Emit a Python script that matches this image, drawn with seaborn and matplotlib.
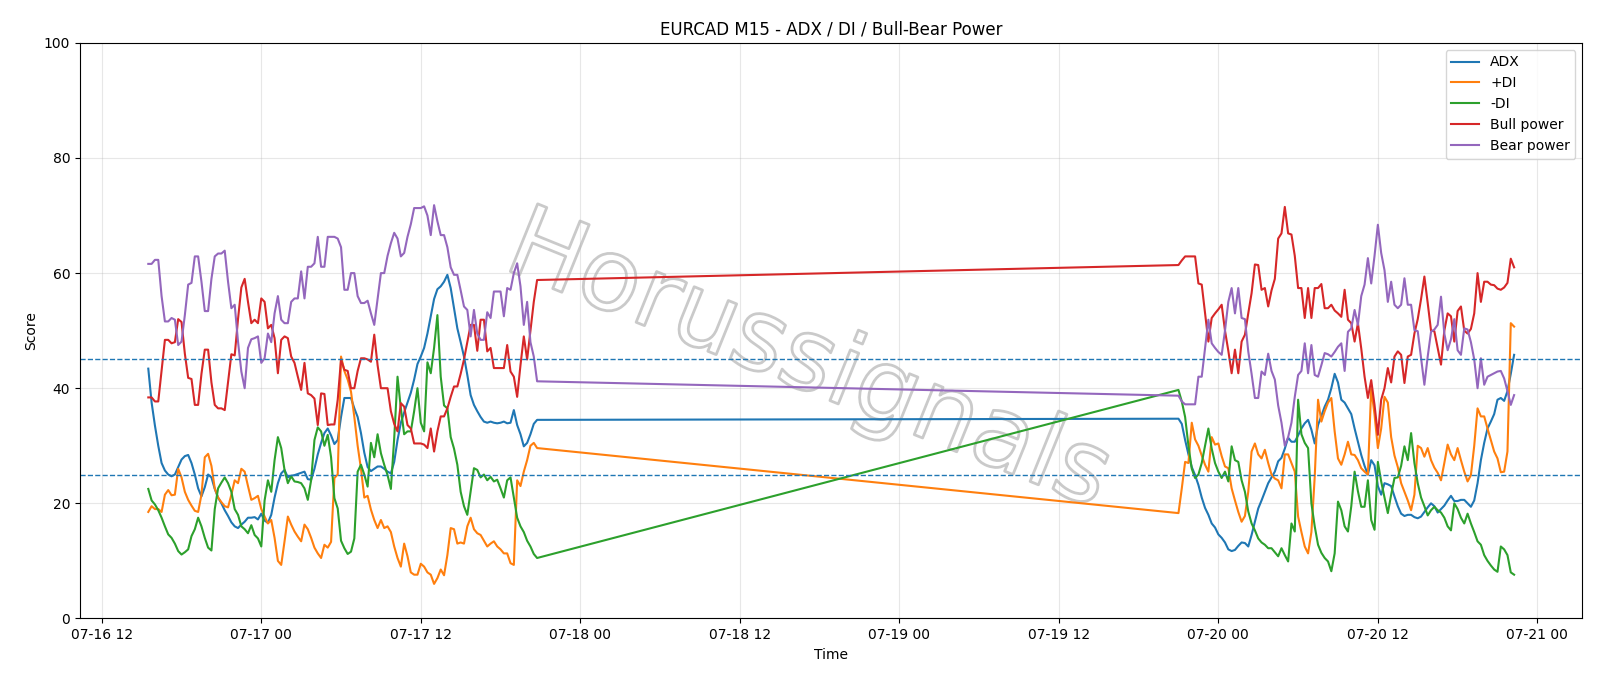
import pandas as pd
import seaborn as sns
import matplotlib.pyplot as plt
import matplotlib.dates as mdates
import matplotlib.patheffects as pe

# two blocks of M15 bars, weekend gap between them
t1 = pd.date_range('2025-07-16 15:30', periods=118, freq='15min')
t2 = pd.date_range('2025-07-19 21:00', periods=102, freq='15min')

adx_1 = [43.4, 37.5, 33.5, 30.0, 27.0, 25.7, 25.0, 24.7, 25.0, 26.3, 27.6, 28.2, 28.4, 27.0, 25.0, 22.6, 21.2, 22.8, 25.0, 24.5,
         22.5, 21.0, 20.0, 18.8, 17.8, 16.7, 16.0, 15.7, 16.3,
         16.8, 17.5, 17.5, 17.6, 17.2, 18.2, 17.0, 16.6, 18.0, 21.0, 23.5, 25.2, 25.8, 24.5, 24.8, 24.9, 25.1, 25.3, 25.5, 24.2,
         24.1, 26.0, 28.5, 30.5, 32.2, 33.0, 31.8, 30.3, 31.0,
         35.0, 38.3, 38.3, 38.3, 36.5, 35.0, 32.2, 28.8, 26.3, 25.6, 26.0, 26.4, 26.4, 26.0, 25.5, 25.2, 27.2, 31.0, 34.0, 35.8,
         37.5, 39.2, 41.5, 44.2, 45.5, 47.0, 49.5, 52.5,
         55.5, 57.2, 57.7, 58.5, 59.7, 57.4, 53.9, 50.4, 48.0, 45.5, 42.3, 38.8, 37.1, 36.0, 35.0, 34.2, 34.0, 34.2, 34.0, 33.9,
         34.0, 34.2, 33.9, 34.0, 36.2, 33.6, 32.0, 29.9, 30.5, 32.0, 33.8, 34.5]
adx_2 = [34.7, 33.8, 31.0, 28.5, 26.3, 24.9, 23.2, 21.0, 19.2, 18.0, 16.5, 15.8, 14.6, 14.0, 13.2, 12.0, 11.7, 11.9, 12.6, 13.2,
         13.1, 12.5, 14.5, 16.8, 19.1, 20.5, 22.0, 23.5, 24.5,
         25.5, 27.3, 27.9, 29.5, 31.4, 30.7, 30.7, 31.8, 33.0, 33.9, 34.5, 32.8, 30.4, 33.6, 35.2, 36.8, 38.0, 40.0, 42.5, 41.0,
         38.0, 37.5, 36.5, 35.5, 33.0, 30.7, 28.4, 26.5, 25.0,
         27.5, 26.6, 23.0, 21.5, 23.5, 23.3, 23.0, 21.2, 19.5, 18.2, 17.8, 18.0, 18.0, 17.6, 17.4, 17.7, 18.5, 19.3, 20.0, 19.5,
         18.4,
         19.0, 19.6, 20.5, 21.3, 20.4, 20.4, 20.6, 20.6, 20.0, 19.4, 20.5, 23.5, 27.5, 30.5, 33.0, 34.2, 35.5, 38.0, 38.3, 37.8,
         39.5, 42.5, 45.8]

pdi_1 = [18.5, 19.5, 19.0, 19.0, 18.5, 21.5, 22.3, 21.4, 21.5, 26.0, 24.5, 22.0, 20.6, 19.6, 18.7, 18.5, 21.5, 28.0, 28.6, 26.5,
         22.6, 21.0, 20.2, 19.5, 19.3, 21.5, 24.0, 23.5, 26.0,
         25.5, 23.0, 20.6, 20.9, 21.3, 19.0, 17.7, 16.5, 17.1, 14.0, 10.0, 9.3, 13.4, 17.7, 16.3, 15.1, 14.2, 13.4, 16.3, 15.5,
         14.0, 12.3, 11.3, 10.5, 12.8, 12.3, 13.3, 24.4, 25.0,
         45.5, 43.0, 41.5, 39.4, 35.0, 30.0, 26.0, 21.0, 21.3, 18.9, 17.1, 15.7, 17.1, 15.7, 16.0, 15.0, 12.5, 10.5, 9.0, 13.0,
         10.8, 8.0, 7.6, 7.6, 9.5, 9.0, 8.0, 7.6,
         6.0, 7.0, 8.5, 7.5, 11.0, 15.7, 15.5, 13.0, 13.2, 13.0, 16.0, 17.5, 15.5, 14.8, 14.5, 13.5, 12.5, 13.0, 13.4, 12.5,
         12.0, 11.3, 11.3, 9.6, 9.3, 24.0, 23.0, 25.5, 27.5, 30.0, 30.5, 29.6]
pdi_2 = [18.3, 22.6, 27.2, 27.0, 34.0, 31.1, 30.0, 28.3, 26.7, 25.5, 31.5, 30.2, 30.4, 28.2, 26.4, 26.1, 22.6, 20.5, 18.5, 16.8,
         17.8, 22.0, 29.0, 30.4, 28.5, 27.8, 29.3, 27.0, 25.0,
         24.3, 24.0, 22.6, 28.5, 28.5, 27.0, 25.5, 17.7, 15.0, 12.5, 11.3, 15.0, 24.6, 38.0, 34.2, 36.0, 37.5, 38.3, 32.5, 27.8,
         26.7, 28.5, 30.7, 28.5, 28.4, 27.5, 26.1, 25.5, 25.0,
         40.0, 35.4, 29.6, 33.0, 38.5, 37.5, 31.5, 28.3, 26.3, 23.5, 22.0, 20.5, 18.8, 21.5, 30.0, 29.6, 28.1, 29.6, 27.5, 26.2,
         25.3,
         24.0, 27.0, 30.2, 28.5, 27.5, 29.6, 27.5, 25.5, 23.8, 24.9, 30.0, 36.5, 35.1, 35.1, 33.0, 31.0, 29.0, 27.8, 25.4, 25.5,
         29.0, 51.3, 50.7]

mdi_1 = [22.5, 20.5, 19.8, 18.8, 17.5, 16.0, 14.6, 14.0, 13.0, 11.7, 11.1, 11.5, 12.0, 14.3, 15.5, 17.5, 16.0, 14.0, 12.3, 11.8,
         19.0, 22.6, 23.6, 24.5, 23.5, 22.0, 19.0, 18.0, 16.0,
         15.5, 14.8, 16.2, 14.5, 13.9, 12.5, 20.5, 24.0, 22.0, 27.5, 31.5, 29.6, 25.8, 23.5, 24.7, 23.8, 23.7, 23.5, 22.6, 20.6,
         24.0, 31.0, 33.2, 32.5, 30.0, 31.9, 28.0, 20.9, 19.1,
         13.5, 12.2, 11.2, 11.6, 13.9, 25.5, 26.7, 25.0, 22.9, 30.5, 28.0, 32.0, 28.7, 26.7, 24.9, 22.5, 31.3, 42.0, 36.5, 32.0,
         32.5, 32.5, 36.0, 40.0, 34.0, 32.5, 44.5, 42.6,
         47.0, 52.7, 42.0, 37.0, 36.5, 31.5, 29.5, 26.7, 22.0, 19.5, 18.0, 22.0, 26.1, 25.8, 24.5, 25.0, 24.0, 24.6, 23.8, 24.1,
         22.6, 21.0, 24.0, 24.5, 21.0, 17.5, 16.0, 15.0, 13.5, 12.5, 11.2, 10.5]
mdi_2 = [39.7, 37.7, 35.0, 30.0, 26.0, 24.4, 25.0, 27.0, 30.0, 33.0, 29.5, 27.0, 25.5, 24.4, 25.5, 23.8, 29.9, 27.5, 27.2, 24.0,
         22.0, 18.6, 16.5, 15.3, 13.9, 13.2, 12.8, 12.2, 12.2,
         11.5, 10.8, 12.2, 11.0, 9.9, 16.5, 15.1, 38.0, 32.0, 30.5, 29.6, 20.0, 16.0, 12.8, 11.4, 10.5, 9.9, 8.2, 11.3, 20.3,
         18.8, 16.0, 15.1, 19.5, 25.5, 22.1, 19.4, 19.4, 24.0,
         17.1, 15.4, 27.2, 23.8, 21.0, 18.3, 21.5, 24.4, 24.5, 26.5, 29.9, 27.5, 32.2, 27.0, 23.5, 21.0, 19.5, 17.9, 18.8, 19.4,
         18.8,
         18.4, 17.5, 16.0, 15.3, 20.0, 19.0, 17.5, 16.5, 18.2, 16.5, 15.0, 13.4, 12.8, 11.0, 10.0, 9.2, 8.5, 8.1, 12.5, 12.0,
         11.0, 8.0, 7.6]

bull_1 = [38.4, 38.4, 37.7, 37.7, 43.0, 48.4, 48.4, 47.8, 48.0, 52.0, 51.5, 46.0, 41.8, 41.6, 37.1, 37.1, 42.5, 46.7, 46.7, 41.0,
          37.1, 36.5, 36.5, 36.2, 41.0, 45.9, 45.7, 52.0, 57.5,
          59.0, 55.0, 51.3, 51.9, 51.3, 55.6, 55.0, 50.4, 51.0, 48.7, 42.6, 48.4, 49.0, 48.7, 45.5, 44.4, 42.0, 39.7, 44.4, 39.1,
          38.8, 38.2, 33.6, 39.1, 39.0, 33.6, 33.7, 33.7, 38.0,
          45.0, 43.2, 43.0, 40.0, 40.0, 43.0, 45.2, 45.2, 45.0, 44.6, 49.3, 44.0, 40.0, 40.0, 40.0, 36.0, 33.8, 32.5, 37.4, 36.8,
          33.6, 33.0, 30.4, 30.4, 30.4, 30.2, 29.6, 33.0,
          29.0, 32.5, 35.1, 35.1, 36.5, 38.5, 40.3, 40.3, 42.5, 45.0, 48.0, 51.0, 51.0, 46.5, 51.9, 51.9, 46.4, 47.0, 43.5, 43.5,
          43.5, 43.5, 47.5, 42.9, 42.0, 38.5, 44.0, 49.0, 45.0, 50.0, 55.0, 58.8]
bull_2 = [61.4, 62.2, 62.9, 62.9, 62.9, 62.9, 58.2, 58.0, 53.0, 48.1, 52.2, 53.0, 53.7, 54.5, 50.0, 46.5, 42.6, 46.7, 42.6, 48.1,
          49.3, 53.0, 56.5, 61.5, 61.4, 57.1, 57.4, 54.2, 57.0,
          59.0, 66.0, 66.9, 71.5, 66.9, 66.7, 63.0, 57.4, 57.4, 52.2, 57.4, 52.2, 57.4, 57.4, 58.1, 53.9, 53.9, 54.5, 53.5, 53.0,
          52.4, 57.1, 51.9, 51.3, 48.1, 51.3, 46.9, 42.0, 38.3,
          41.4, 37.1, 31.9, 38.0, 40.0, 43.5, 41.0, 45.5, 46.4, 45.8, 40.9, 45.5, 45.8, 49.5, 52.0, 55.5, 59.4, 54.8, 50.0, 49.9,
          47.0,
          44.1, 50.0, 53.0, 52.5, 48.1, 53.4, 54.2, 50.0, 49.5, 50.3, 53.0, 60.0, 55.0, 58.5, 58.5, 58.0, 57.9, 57.3, 57.1, 57.5,
          58.3, 62.5, 61.0]

bear_1 = [61.6, 61.6, 62.3, 62.3, 56.0, 51.6, 51.6, 52.2, 51.9, 47.5, 48.1, 52.7, 58.0, 58.3, 62.9, 62.9, 58.5, 53.4, 53.4, 59.0,
          62.9, 63.4, 63.4, 63.9, 58.5, 53.9, 54.5, 48.1, 42.9,
          40.0, 47.0, 48.5, 48.7, 49.0, 44.4, 45.2, 49.5, 48.0, 53.0, 56.0, 51.9, 51.3, 51.3, 55.0, 55.6, 55.6, 60.3, 55.6, 61.1,
          61.1, 61.7, 66.3, 61.1, 61.1, 66.3, 66.3, 66.3, 66.0,
          64.5, 57.1, 57.1, 60.0, 60.0, 56.0, 54.8, 54.8, 55.2, 53.0, 51.0, 55.5, 60.0, 60.0, 63.0, 65.2, 67.0, 66.0, 62.9, 63.5,
          66.3, 68.5, 71.3, 71.3, 71.3, 71.6, 70.0, 66.6,
          71.8, 69.0, 66.6, 66.6, 64.5, 61.0, 59.7, 59.7, 57.0, 54.2, 53.6, 49.0, 53.6, 49.5, 48.4, 48.4, 53.2, 52.2, 56.8, 56.8,
          56.8, 52.5, 57.4, 57.1, 60.0, 61.7, 57.7, 51.0, 55.0, 48.0, 45.5, 41.2]
bear_2 = [38.7, 37.7, 37.2, 37.2, 37.2, 37.2, 42.0, 42.0, 47.0, 51.9, 47.8, 47.0, 46.3, 45.8, 50.0, 55.0, 57.4, 53.0, 57.4, 52.2,
          52.0, 46.4, 42.5, 38.3, 38.3, 42.9, 42.3, 46.0, 43.0,
          41.5, 37.0, 34.0, 30.0, 31.5, 34.0, 38.5, 42.3, 43.0, 47.8, 42.6, 47.5, 42.3, 42.0, 44.0, 46.1, 45.9, 45.5, 46.3, 47.2,
          47.8, 43.0, 49.8, 50.4, 53.6, 51.0, 56.0, 58.0, 62.6,
          58.2, 63.0, 68.4, 63.5, 60.5, 55.0, 58.5, 54.5, 53.9, 54.5, 59.1, 54.5, 54.5, 50.1, 49.9, 45.2, 40.6, 45.5, 49.8, 50.2,
          51.0,
          55.9, 49.5, 46.6, 48.5, 52.0, 46.6, 45.8, 50.4, 50.2, 48.0, 45.0, 40.0, 45.2, 40.6, 42.0, 42.3, 42.6, 42.9, 43.0, 41.7,
          39.5, 37.1, 38.8]

times = t1.append(t2)
series = [
    ('ADX', adx_1 + adx_2, 'C0'),
    ('+DI', pdi_1 + pdi_2, 'C1'),
    ('-DI', mdi_1 + mdi_2, 'C2'),
    ('Bull power', bull_1 + bull_2, 'C3'),
    ('Bear power', bear_1 + bear_2, 'C4'),
]

fig, ax = plt.subplots(figsize=(16, 6.86), dpi=100)
fig.subplots_adjust(left=0.05, right=0.989, top=0.9375, bottom=0.0985)

for name, vals, col in series:
    sns.lineplot(x=times, y=vals, ax=ax, label=name, color=col, linewidth=1.5, estimator=None)

ax.axhline(45, color='C0', linestyle='--', linewidth=1)
ax.axhline(25, color='C0', linestyle='--', linewidth=1)

# watermark
ax.text(0.485, 0.445, 'Horussignals', transform=ax.transAxes, fontsize=72, rotation=-22,
        ha='center', va='center', color='none', zorder=1,
        path_effects=[pe.Stroke(linewidth=2, foreground='#cacaca')])

ax.set_ylim(0, 100)
ax.xaxis.set_major_locator(mdates.HourLocator(byhour=[0, 12]))
ax.xaxis.set_major_formatter(mdates.DateFormatter('%m-%d %H'))
ax.grid(True, alpha=0.3)
ax.set_title('EURCAD M15 - ADX / DI / Bull-Bear Power', fontsize=12)
ax.set_xlabel('Time')
ax.set_ylabel('Score')
ax.legend(loc='upper right')

plt.savefig('out.png', dpi=100)
